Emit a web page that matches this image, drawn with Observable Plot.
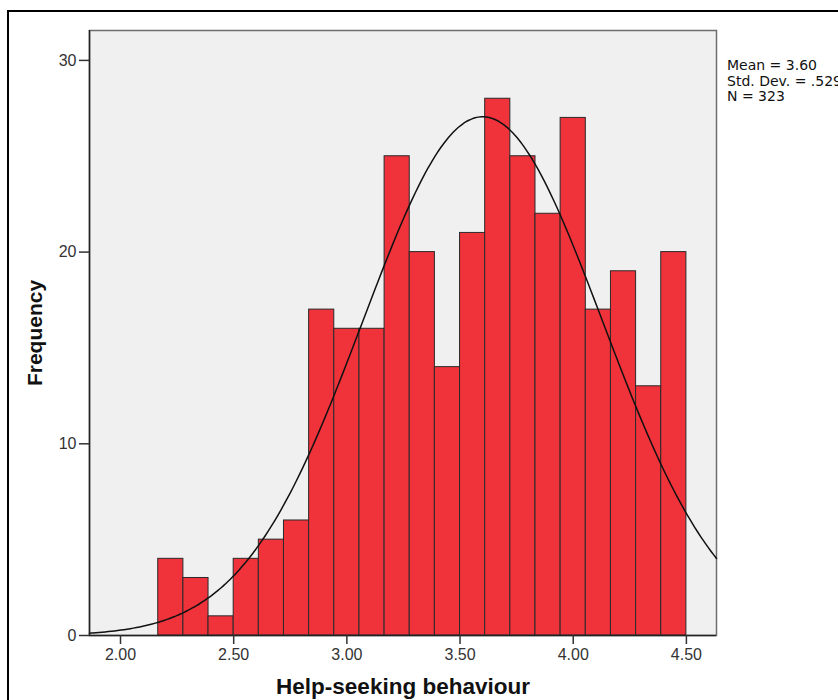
<!DOCTYPE html>
<html>
<head>
<meta charset="utf-8">
<script src="https://cdn.jsdelivr.net/npm/d3@7"></script>
<script src="https://cdn.jsdelivr.net/npm/@observablehq/plot@0.6"></script>
<style>
  html, body { margin: 0; padding: 0; background: #fff; overflow: hidden; }
  #wrap { position: relative; width: 838px; height: 700px; font-family: "Liberation Sans", Arial, sans-serif; }
  #border { position: absolute; left: 7px; top: 10px; width: 900px; height: 800px;
            border-left: 2px solid #000; border-top: 2px solid #000; box-sizing: border-box; }
  #stats { position: absolute; left: 727px; top: 58px; font-family: "DejaVu Sans", sans-serif;
           font-size: 14px; line-height: 15.5px; color: #111; white-space: nowrap; }
  #chart { position: absolute; left: 0; top: 0; }
</style>
</head>
<body>
<div id="wrap">
  <div id="border"></div>
  <div id="chart"></div>
  <div id="stats"></div>
</div>
<script>
// Histogram bin edges (bin width 1/9) and frequency per bin
const binEdges = [2.1667, 2.2778, 2.3889, 2.5000, 2.6111, 2.7222, 2.8333, 2.9444, 3.0556,
                  3.1667, 3.2778, 3.3889, 3.5000, 3.6111, 3.7222, 3.8333, 3.9444, 4.0556,
                  4.1667, 4.2778, 4.3889, 4.5000];
const counts = [4, 3, 1, 4, 5, 6, 17, 16, 16, 25, 20, 14, 21, 28, 25, 22, 27, 17, 19, 13, 20];

// Summary statistics shown next to the chart
const mean = 3.60;
const stdDev = 0.529;
const n = 323;
const statLines = ["Mean = 3.60", "Std. Dev. = .529", "N = 323"];

const xTicks = [2.0, 2.5, 3.0, 3.5, 4.0, 4.5];
const yTicks = [0, 10, 20, 30];
const xDomain = [1.863, 4.633];
const yDomain = [0, 31.56];

const bins = counts.map((c, i) => ({ x1: binEdges[i], x2: binEdges[i + 1], count: c }));

// Fitted normal curve scaled to counts per bin
const binWidth = binEdges[1] - binEdges[0];
const normal = x => n * binWidth / (stdDev * Math.sqrt(2 * Math.PI)) *
  Math.exp(-0.5 * ((x - mean) / stdDev) ** 2);
const curve = d3.range(0, 201).map(i => {
  const x = xDomain[0] + (xDomain[1] - xDomain[0]) * i / 200;
  return { x, y: normal(x) };
});

const chart = Plot.plot({
  width: 838,
  height: 700,
  marginLeft: 89,
  marginRight: 122,
  marginTop: 30,
  marginBottom: 65,
  style: { fontFamily: "Liberation Sans, Arial, sans-serif", background: "transparent", overflow: "visible" },
  x: { domain: xDomain, ticks: xTicks, tickFormat: d3.format(".2f") },
  y: { domain: yDomain, ticks: yTicks },
  marks: [
    Plot.frame({ fill: "#f0f0f0", stroke: "#6e6e6e", strokeWidth: 1.5 }),
    Plot.rectY(bins, { x1: "x1", x2: "x2", y1: 0, y2: "count", fill: "#f0323b", stroke: "#2a2a2a", strokeWidth: 1 }),
    Plot.line(curve, { x: "x", y: "y", stroke: "#111", strokeWidth: 1.5, curve: "basis" }),
    Plot.ruleX([xDomain[0]], { stroke: "#222", strokeWidth: 1.5 }),
    Plot.ruleY([0], { stroke: "#222", strokeWidth: 1.5 }),
    Plot.axisX({ ticks: xTicks, tickFormat: d3.format(".2f"), tickSize: 9, tickPadding: 4,
                 fontSize: 16, color: "#333", label: "Help-seeking behaviour", labelAnchor: "center",
                 labelArrow: "none", labelOffset: 58 }),
    Plot.axisY({ ticks: yTicks, tickSize: 10, tickPadding: 3, fontSize: 16, color: "#333",
                 label: "Frequency", labelAnchor: "center", labelArrow: "none", labelOffset: 62 })
  ]
});

d3.select(chart).selectAll("[aria-label='x-axis label'] text")
  .style("font-weight", "bold").style("font-size", "22.5px").style("fill", "#111");
d3.select(chart).selectAll("[aria-label='y-axis label'] text")
  .style("font-weight", "bold").style("font-size", "21px").style("fill", "#111");
d3.select(chart).selectAll("[aria-label='x-axis tick'], [aria-label='y-axis tick']")
  .attr("stroke", "#333").attr("stroke-width", 1.5);

document.getElementById("chart").appendChild(chart);
document.getElementById("stats").innerHTML = statLines.join("<br>");
</script>
</body>
</html>
